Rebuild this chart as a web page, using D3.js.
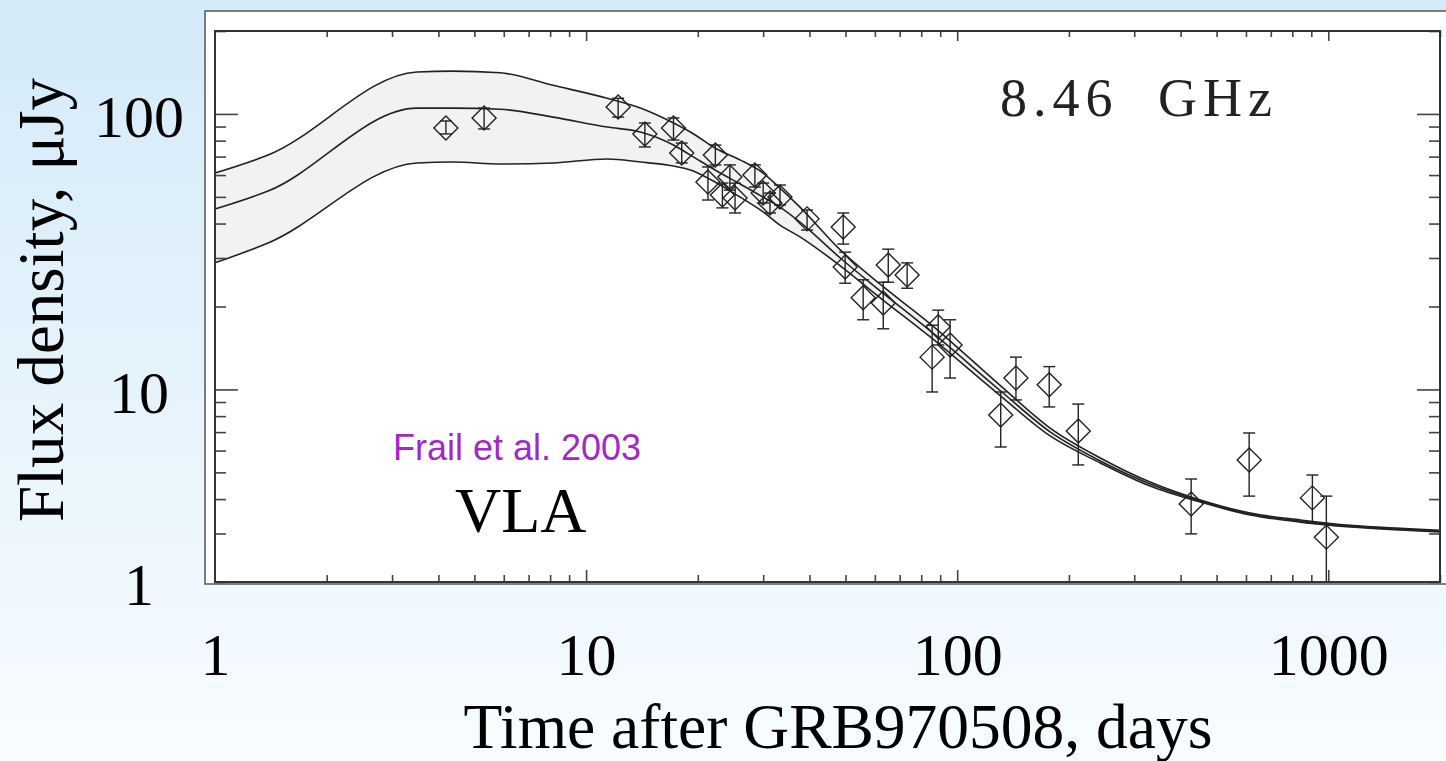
<!DOCTYPE html>
<html>
<head>
<meta charset="utf-8">
<script src="https://cdn.jsdelivr.net/npm/d3@7"></script>
<style>
  body { margin: 0; overflow: hidden; }
  text { font-family: "Liberation Serif", "Times New Roman", serif; }
</style>
</head>
<body>
<div class="chart"></div>
<script>

// model light curve band (days after burst, flux density in uJy)
const modelDays  = [1, 1.39, 3.5, 4.38, 5.87, 8.15, 11.4, 14.0, 17.2, 19.1, 22.5, 26.0, 30.0, 33.3, 37.7, 48.4, 62.0, 84.6, 131, 178, 243, 331, 452, 616, 840, 1147, 1563, 2000]
const modelUpper = [61.0, 70.9, 142, 143, 141, 127, 114, 105, 92.7, 86.0, 74.6, 68.1, 61.0, 53.8, 45.9, 32.1, 24.1, 17.3, 10.3, 7.24, 5.64, 4.61, 3.97, 3.56, 3.36, 3.21, 3.13, 3.08]
const modelMid   = [45.2, 52.5, 105, 105, 104, 97.4, 89.6, 86.0, 77.1, 70.9, 62.1, 55.7, 49.9, 45.9, 40.5, 30.0, 22.8, 16.3, 9.87, 7.01, 5.50, 4.54, 3.94, 3.53, 3.33, 3.19, 3.11, 3.06]
const modelLower = [28.8, 34.0, 66.4, 66.9, 65.8, 66.4, 68.6, 66.9, 64.7, 62.6, 56.1, 49.9, 44.1, 39.5, 35.8, 28.1, 21.5, 15.5, 9.46, 6.78, 5.41, 4.46, 3.90, 3.50, 3.30, 3.17, 3.09, 3.04]

// VLA 8.46 GHz measurements
const obsDays = [4.19, 5.31, 12.2, 14.4, 17.2, 18.1, 22.3, 21.3, 23.3, 24.4, 25.2, 28.5, 30.0, 31.3, 33.3, 39.4, 49.3, 49.9, 55.8, 63.2, 65.2, 73.3, 85.6, 88.9, 95.7, 131, 144, 177, 212, 427, 612, 906, 988]
const obsFlux = [88.9, 96.7, 106, 84.6, 88.9, 72.1, 70.9, 56.6, 50.8, 59.0, 49.5, 60.0, 51.6, 47.5, 49.9, 41.6, 38.9, 27.8, 21.5, 20.6, 28.3, 26.0, 13.1, 16.9, 14.5, 8.08, 11.0, 10.4, 7.07, 3.84, 5.54, 4.04, 2.91]
const obsLo   = [84.6, 88.2, 97.4, 75.9, 80.4, 66.4, 65.3, 48.7, 45.6, 52.9, 43.7, 54.3, 47.5, 43.7, 46.7, 37.9, 33.7, 24.3, 17.9, 16.6, 24.5, 23.3, 9.79, 14.5, 11.0, 6.18, 9.16, 8.64, 5.32, 2.99, 4.10, 3.27, 1.0]
const obsHi   = [94.3, 105, 114, 92.7, 96.7, 78.4, 77.1, 64.2, 56.1, 65.3, 56.1, 65.3, 56.1, 51.6, 55.2, 44.8, 43.7, 31.5, 25.0, 24.5, 32.3, 28.8, 17.1, 19.4, 17.9, 9.79, 13.1, 12.1, 8.85, 4.73, 6.95, 4.89, 4.10]

const xTickVals = [1, 10, 100, 1000]
const xTickLabels = ["1", "10", "100", "1000"]
const yTickVals = [100, 10, 2]
const yTickLabels = ["100", "10", "1"]

const W = 1446, H = 761

let svg = d3.select(".chart").append("svg")
    .attr("width", W)
    .attr("height", H)

// slide background
let grad = svg.append("defs").append("linearGradient")
    .attr("id", "bg")
    .attr("x1", 0).attr("y1", 0).attr("x2", 0).attr("y2", 1)
grad.append("stop").attr("offset", "0%").attr("stop-color", "#d3eaf9")
grad.append("stop").attr("offset", "100%").attr("stop-color", "#f8fcff")

svg.append("rect")
    .attr("width", W).attr("height", H)
    .attr("fill", "url(#bg)")

// white figure box
svg.append("rect")
    .attr("x", 205).attr("y", 11)
    .attr("width", 1260).attr("height", 573)
    .attr("fill", "white")
    .attr("stroke", "#555")
    .attr("stroke-width", 1.5)

let xScale = d3.scaleLog()
    .domain([1, 2000])
    .range([215, 1440])

let yScale = d3.scaleLog()
    .domain([2, 200])
    .range([582, 31])
    .clamp(true)

const idx = d3.range(modelDays.length)

// shaded band between upper and lower model
let band = d3.area()
    .x(i => xScale(modelDays[i]))
    .y0(i => yScale(modelLower[i]))
    .y1(i => yScale(modelUpper[i]))
    .curve(d3.curveMonotoneX)

svg.append("path")
    .datum(idx)
    .attr("fill", "#f2f2f2")
    .attr("d", band)

function modelLine(arr) {
    return d3.line()
        .x(i => xScale(modelDays[i]))
        .y(i => yScale(arr[i]))
        .curve(d3.curveMonotoneX)
}

;[modelUpper, modelMid, modelLower].forEach(arr => {
    svg.append("path")
        .datum(idx)
        .attr("fill", "none")
        .attr("stroke", "#222")
        .attr("stroke-width", 1.6)
        .attr("d", modelLine(arr))
})

// ticks on all four sides, pointing inward
const isMajor = d => Math.abs(Math.log10(d) - Math.round(Math.log10(d))) < 1e-6
const xMinor = xScale.ticks().filter(d => !isMajor(d))
const xMajor = [10, 100, 1000]
const yMinor = yScale.ticks().filter(d => !isMajor(d))
const yMajor = [10, 100]

function tickAxis(axis, pos) {
    let g = svg.append("g").attr("transform", pos).call(axis)
    g.select(".domain").remove()
    g.selectAll("line").attr("stroke", "#444").attr("stroke-width", 1.6)
    return g
}

tickAxis(d3.axisBottom(xScale).tickValues(xMinor).tickSize(-7).tickFormat(""), "translate(0,582)")
tickAxis(d3.axisBottom(xScale).tickValues(xMajor).tickSize(-12).tickFormat(""), "translate(0,582)")
tickAxis(d3.axisTop(xScale).tickValues(xMinor).tickSize(-6).tickFormat(""), "translate(0,31)")
tickAxis(d3.axisTop(xScale).tickValues(xMajor).tickSize(-10).tickFormat(""), "translate(0,31)")
tickAxis(d3.axisLeft(yScale).tickValues(yMinor).tickSize(-11).tickFormat(""), "translate(215,0)")
tickAxis(d3.axisLeft(yScale).tickValues(yMajor).tickSize(-23).tickFormat(""), "translate(215,0)")
tickAxis(d3.axisRight(yScale).tickValues(yMinor).tickSize(-11).tickFormat(""), "translate(1440,0)")
tickAxis(d3.axisRight(yScale).tickValues(yMajor).tickSize(-23).tickFormat(""), "translate(1440,0)")

// plot frame
svg.append("rect")
    .attr("x", 215).attr("y", 31)
    .attr("width", 1225).attr("height", 551)
    .attr("fill", "none")
    .attr("stroke", "#333")
    .attr("stroke-width", 2)

// error bars + diamonds
let pts = svg.append("g")
    .selectAll("g")
    .data(obsDays.map((d, i) => i))
    .join("g")
    .attr("stroke", "#222")
    .attr("stroke-width", 1.4)
    .attr("fill", "none")

pts.append("line")
    .attr("x1", i => xScale(obsDays[i])).attr("x2", i => xScale(obsDays[i]))
    .attr("y1", i => yScale(obsLo[i])).attr("y2", i => yScale(obsHi[i]))
pts.append("line")
    .attr("x1", i => xScale(obsDays[i]) - 6).attr("x2", i => xScale(obsDays[i]) + 6)
    .attr("y1", i => yScale(obsHi[i])).attr("y2", i => yScale(obsHi[i]))
pts.filter(i => obsLo[i] > 2).append("line")
    .attr("x1", i => xScale(obsDays[i]) - 6).attr("x2", i => xScale(obsDays[i]) + 6)
    .attr("y1", i => yScale(obsLo[i])).attr("y2", i => yScale(obsLo[i]))
pts.append("path")
    .attr("d", i => {
        const cx = xScale(obsDays[i]), cy = yScale(obsFlux[i]), r = 12
        return `M${cx},${cy - r}L${cx + r},${cy}L${cx},${cy + r}L${cx - r},${cy}Z`
    })

// tick labels
let xl = svg.append("g")
    .attr("transform", "translate(0,582)")
    .call(d3.axisBottom(xScale).tickValues(xTickVals).tickSize(0).tickPadding(50)
        .tickFormat((d, i) => xTickLabels[i]))
xl.select(".domain").remove()
xl.selectAll("text")
    .attr("font-size", 60)
    .attr("fill", "#000")

let yl = svg.append("g")
    .attr("transform", "translate(139,0)")
    .call(d3.axisLeft(yScale).tickValues(yTickVals).tickSize(0)
        .tickFormat((d, i) => yTickLabels[i]))
yl.select(".domain").remove()
yl.selectAll("text")
    .attr("x", 0)
    .attr("dy", "0.38em")
    .attr("text-anchor", "middle")
    .attr("font-size", 60)
    .attr("fill", "#000")

// axis titles
svg.append("text")
    .attr("x", 838).attr("y", 748)
    .attr("text-anchor", "middle")
    .attr("font-size", 63.5)
    .text("Time after GRB970508, days")

svg.append("text")
    .attr("transform", "translate(63,300) rotate(-90)")
    .attr("text-anchor", "middle")
    .attr("font-size", 65)
    .text("Flux density, μJy")

// annotations
let ghz = svg.append("text")
    .attr("y", 116)
    .attr("font-size", 54)
    .attr("letter-spacing", 6)
    .attr("fill", "#222")
ghz.append("tspan").attr("x", 1000).text("8.46")
ghz.append("tspan").attr("x", 1158).text("GHz")

svg.append("text")
    .attr("x", 393).attr("y", 460)
    .style("font-family", "'Liberation Sans', Arial, sans-serif")
    .attr("font-size", 36)
    .attr("fill", "#a02ac8")
    .text("Frail et al. 2003")

svg.append("text")
    .attr("x", 455).attr("y", 532)
    .attr("font-size", 64)
    .text("VLA")

</script>
</body>
</html>
